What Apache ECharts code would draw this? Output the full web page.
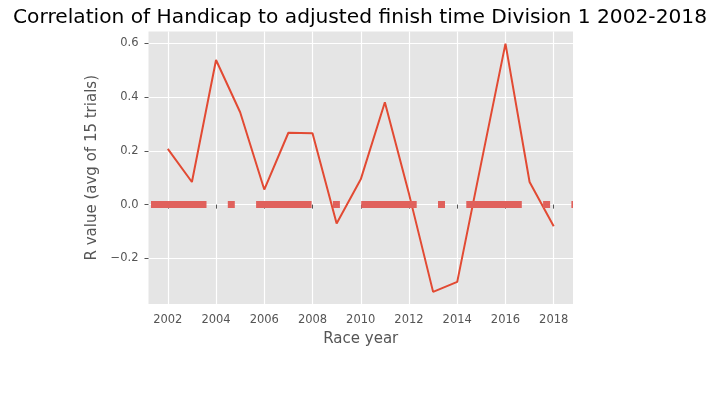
<!DOCTYPE html>
<html>
<head>
<meta charset="utf-8">
<script src="https://cdn.jsdelivr.net/npm/echarts@6/dist/echarts.min.js"></script>
<style>html,body{margin:0;padding:0;background:#fff;}#c{width:720px;height:405px;}</style>
</head>
<body>
<div id="c"></div>
<script>
const years = [2002,2003,2004,2005,2006,2007,2008,2009,2010,2011,2012,2013,2014,2015,2016,2017,2018];
const rValues = [0.207,0.084,0.537,0.343,0.056,0.267,0.265,-0.070,0.094,0.380,0.040,-0.324,-0.287,0.157,0.598,0.084,-0.080];
const xTicks = [2002,2004,2006,2008,2010,2012,2014,2016,2018];
const yTicks = [-0.2,0.0,0.2,0.4,0.6];
const refLineValue = 0;

const chart = echarts.init(document.getElementById('c'), null, {renderer:'canvas'});
const font = 'DejaVu Sans';
chart.setOption({
  animation:false,
  backgroundColor:'#ffffff',
  title:{
    text:'Correlation of Handicap to adjusted finish time Division 1 2002-2018',
    left:'center', top:3,
    textStyle:{fontFamily:font,fontSize:20.2,fontWeight:'normal',color:'#000'}
  },
  grid:{left:148.5,right:147,top:31.5,bottom:101,show:true,backgroundColor:'#E5E5E5',borderWidth:0,containLabel:false},
  xAxis:{
    type:'value', min:2001.2, max:2018.8,
    name:'Race year', nameLocation:'middle', nameGap:28,
    nameTextStyle:{fontFamily:font,fontSize:15,color:'#555'},
    axisLine:{show:false},
    axisTick:{show:true,length:4,lineStyle:{color:'#555'},customValues:xTicks},
    axisLabel:{customValues:xTicks,fontFamily:font,fontSize:11.5,color:'#555',margin:10,formatter:v=>String(v)},
    splitLine:{show:true,lineStyle:{color:'#ffffff',width:1.2}}
  },
  yAxis:{
    type:'value', min:-0.369, max:0.643,
    name:'R value (avg of 15 trials)', nameLocation:'middle', nameGap:44,
    nameTextStyle:{fontFamily:font,fontSize:15,color:'#555'},
    axisLine:{show:false},
    axisTick:{show:true,length:4,lineStyle:{color:'#555'},customValues:yTicks},
    axisLabel:{customValues:yTicks,fontFamily:font,fontSize:11.5,color:'#555',margin:10,
      formatter:v=>v.toFixed(1).replace('-','\u2212')},
    splitLine:{show:true,lineStyle:{color:'#ffffff',width:1.2}}
  },
  series:[{
    type:'line',
    data:years.map((y,i)=>[y,rValues[i]]),
    showSymbol:false, symbol:'none',
    lineStyle:{color:'#E24A33',width:2},
    markLine:{
      silent:true, symbol:['none','none'],
      label:{show:false},
      lineStyle:{color:'#E0615C',width:7,type:[55.5,21.3,7,21.3],dashOffset:102.6,cap:'butt'},
      data:[{yAxis:refLineValue}]
    },
    z:3
  }]
});
</script>
</body>
</html>
